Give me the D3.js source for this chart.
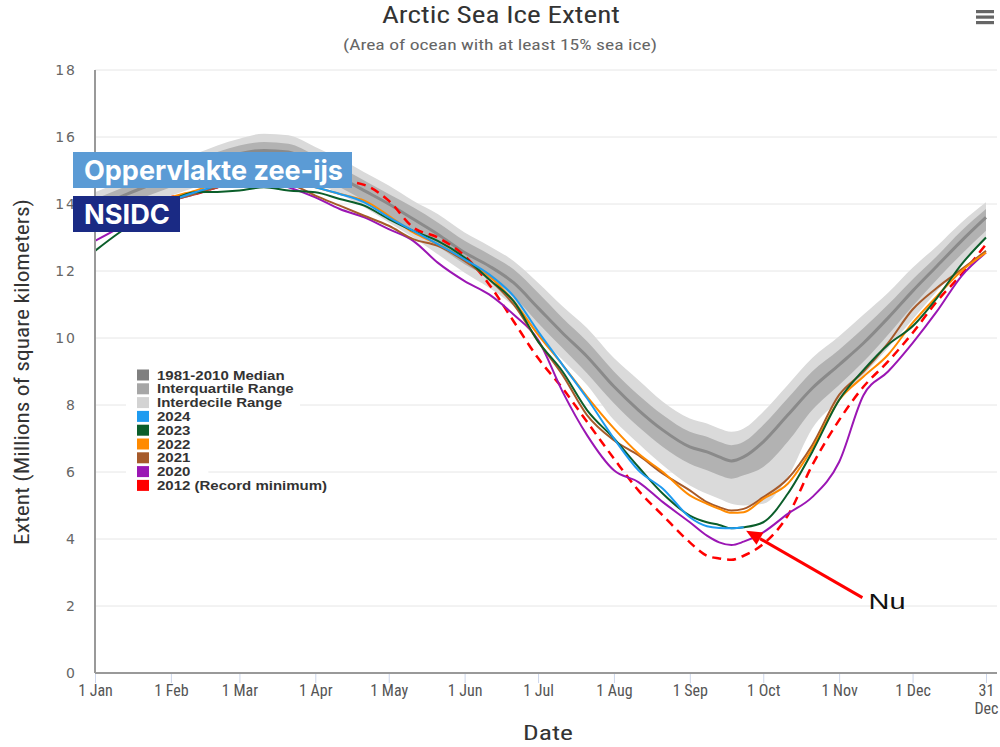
<!DOCTYPE html>
<html><head><meta charset="utf-8">
<script src="https://cdn.jsdelivr.net/npm/d3@7"></script>
<style>body{margin:0;background:#fff}svg{display:block}</style>
</head><body>
<svg id="chart" width="1000" height="747"></svg>
<script>
// ---- data (millions of km², day-of-year sampled) ----
const days = [0,10,20,31,41,50,59,69,79,90,100,110,120,130,140,151,161,171,181,191,201,212,222,232,243,250,255,260,265,273,283,293,304,314,324,334,344,354,364];
const median = [13.9,14.2,14.5,14.8,15.05,15.3,15.5,15.6,15.55,15.2,14.8,14.4,14.0,13.55,13.1,12.55,12.15,11.65,10.9,10.15,9.45,8.55,7.85,7.25,6.75,6.6,6.45,6.33,6.45,6.9,7.7,8.5,9.2,9.85,10.6,11.4,12.15,12.9,13.6];
const iqLow  = [13.6,13.9,14.2,14.5,14.75,15.0,15.2,15.3,15.25,14.9,14.5,14.1,13.65,13.2,12.75,12.2,11.8,11.25,10.45,9.7,8.95,8.05,7.35,6.75,6.25,6.05,5.9,5.8,5.9,6.15,6.9,7.85,8.6,9.3,10.1,10.95,11.75,12.5,13.2];
const iqHigh = [14.15,14.45,14.75,15.05,15.3,15.55,15.75,15.85,15.8,15.45,15.1,14.7,14.3,13.9,13.45,12.9,12.5,12.05,11.35,10.6,9.9,9.0,8.3,7.7,7.2,7.05,6.9,6.8,6.9,7.4,8.2,9.0,9.65,10.3,11.0,11.75,12.45,13.2,13.85];
const idLow  = [13.35,13.65,13.95,14.25,14.5,14.75,14.95,15.05,15.0,14.65,14.3,13.9,13.45,13.0,12.5,11.95,11.5,10.95,10.1,9.35,8.6,7.55,6.85,6.2,5.6,5.35,5.2,5.05,5.0,5.05,5.85,7.3,8.15,8.9,9.7,10.55,11.4,12.2,12.95];
const idHigh = [14.35,14.65,14.95,15.25,15.5,15.75,15.95,16.1,16.05,15.7,15.35,14.95,14.55,14.1,13.7,13.15,12.75,12.3,11.65,10.95,10.3,9.4,8.75,8.1,7.6,7.45,7.3,7.2,7.3,7.8,8.6,9.4,10.05,10.7,11.35,12.1,12.75,13.45,14.05];

const y2024 = [13.25,13.5,13.8,14.1,14.35,14.55,14.75,14.8,14.7,14.5,14.3,14.05,13.6,13.2,12.8,12.35,11.9,11.25,10.2,9.2,8.2,7.0,6.05,5.5,4.65,4.38,4.33,4.32,4.35,null,null,null,null,null,null,null,null,null,null];
const y2023 = [12.6,13.15,13.6,14.1,14.35,14.36,14.4,14.5,14.4,14.35,14.15,13.95,13.55,13.2,12.9,12.4,11.75,11.1,9.9,9.0,7.85,7.0,6.15,5.35,4.7,4.5,4.42,4.32,4.35,4.5,5.35,6.6,8.15,9.05,9.8,10.35,11.2,12.2,13.0];
const y2022 = [13.3,13.6,13.9,14.2,14.4,14.6,14.7,14.8,14.7,14.5,14.3,14.1,13.65,13.15,12.8,12.35,11.85,11.1,10.1,9.2,8.25,7.3,6.55,6.0,5.3,5.05,4.9,4.78,4.8,5.2,5.65,6.7,8.15,8.85,9.5,10.45,11.25,12.0,12.55];
const y2021 = [13.2,13.5,13.8,14.1,14.3,14.5,14.6,14.65,14.6,14.25,13.95,13.65,13.35,12.95,12.75,12.3,11.75,11.0,9.9,8.9,7.7,6.95,6.5,5.95,5.45,5.1,4.95,4.85,4.9,5.25,5.8,6.8,8.3,9.0,9.85,10.85,11.5,12.05,12.6];
const y2020 = [12.9,13.3,13.8,14.1,14.3,14.5,14.6,14.7,14.5,14.2,13.85,13.6,13.25,12.9,12.25,11.7,11.3,10.7,9.95,8.4,7.1,6.05,5.7,5.1,4.5,4.1,3.9,3.82,3.92,4.2,4.75,5.25,6.3,8.3,9.0,9.85,10.8,11.85,12.55];
const y2012 = [13.4,13.6,13.9,14.2,14.3,14.5,14.6,14.8,14.9,14.8,14.7,14.57,14.1,13.3,13.0,12.45,11.6,10.5,9.4,8.5,7.5,6.4,5.45,4.7,3.9,3.5,3.42,3.38,3.5,3.85,4.7,6.2,7.55,8.55,9.3,10.15,11.1,11.9,12.8];

const monthDays = [0,31,59,90,120,151,181,212,243,273,304,334,364];
const monthLabels = ["1 Jan","1 Feb","1 Mar","1 Apr","1 May","1 Jun","1 Jul","1 Aug","1 Sep","1 Oct","1 Nov","1 Dec","31\nDec"];
const yTicks = [0,2,4,6,8,10,12,14,16,18];

const seriesNames = ["2024","2023","2022","2021","2020","2012 (Record minimum)"];
const seriesColors = ["#1e9bf0","#0b5e2a","#ff8a00","#a65a2a","#9b16b4","#ff0000"];
const seriesData = [y2024,y2023,y2022,y2021,y2020,y2012];

const legendNames = ["1981-2010 Median","Interquartile Range","Interdecile Range"].concat(seriesNames);
const legendColors = ["#7f7f7f","#a6a6a6","#d3d3d3"].concat(seriesColors);

// annotation anchor (data coordinates)
const nuDay = 316, nuValue = 2.15;
const arrowTailDay = 313.5, arrowTailValue = 2.25;
const arrowTipDay = 266, arrowTipValue = 4.25;

// ---- drawing ----
const svg = d3.select("#chart");
const x = d3.scaleLinear().domain([0,364]).range([95,986]);
const y = d3.scaleLinear().domain([0,18]).range([673,70]);
const condensed = "'Liberation Sans Narrow','Roboto Condensed','DejaVu Sans Condensed','Open Sans',sans-serif";

// grid
svg.append("g").selectAll("line").data(yTicks.filter(d=>d>0)).join("line")
  .attr("x1",95).attr("x2",997).attr("y1",d=>y(d)).attr("y2",d=>y(d))
  .attr("stroke","#e6e6e6").attr("stroke-width",1);

// bands
const idx = d3.range(days.length);
const area = (lo,hi)=>d3.area().x(i=>x(days[i])).y0(i=>y(lo[i])).y1(i=>y(hi[i])).curve(d3.curveMonotoneX);
svg.append("path").attr("d",area(idLow,idHigh)(idx)).attr("fill","#dadada");
svg.append("path").attr("d",area(iqLow,iqHigh)(idx)).attr("fill","#b2b2b2");
const lineGen = arr=>d3.line().defined(i=>arr[i]!=null).x(i=>x(days[i])).y(i=>y(arr[i])).curve(d3.curveMonotoneX);
svg.append("path").attr("d",lineGen(median)(idx)).attr("fill","none").attr("stroke","#8a8a8a").attr("stroke-width",3);

// year lines (2012 underneath, 2024 on top)
for (let k = seriesData.length-1; k>=0; k--) {
  const p = svg.append("path").attr("d",lineGen(seriesData[k])(idx)).attr("fill","none")
    .attr("stroke",seriesColors[k]).attr("stroke-width",k===5?2.5:2).attr("stroke-linejoin","round");
  if (k===5) p.attr("stroke-dasharray","9,6");
}

// axes
svg.append("line").attr("x1",95).attr("x2",95).attr("y1",70).attr("y2",673).attr("stroke","#999").attr("stroke-width",2);
const xAxis = d3.axisBottom(x).tickValues(monthDays).tickSize(10).tickFormat(()=> "");
const gx = svg.append("g").attr("transform","translate(0,673)").call(xAxis);
gx.select(".domain").remove();
gx.selectAll(".tick line").attr("stroke","#ccd6eb");
svg.append("line").attr("x1",95).attr("x2",997).attr("y1",673).attr("y2",673).attr("stroke","#999").attr("stroke-width",2);
gx.selectAll(".tick").each(function(d,i){
  const t = d3.select(this).append("text").attr("fill","#555").attr("font-family",condensed)
    .attr("font-size",16).attr("text-anchor","middle").attr("y",23);
  monthLabels[i].split("\n").forEach((s,j)=>t.append("tspan").attr("x",0).attr("dy",j?18:0).text(s));
});

const yAxis = d3.axisLeft(y).tickValues(yTicks).tickSize(0).tickFormat(d3.format("d"));
const gy = svg.append("g").attr("transform","translate(77,0)").call(yAxis);
gy.select(".domain").remove();
gy.selectAll("text").attr("fill","#666").attr("font-family","'DejaVu Sans',sans-serif").attr("font-size",14)
  .attr("letter-spacing","2px").attr("x",0).attr("dy","0.35em");

// titles
svg.append("text").attr("x",501).attr("y",23).attr("text-anchor","middle").attr("font-family",condensed)
  .attr("font-size",23).attr("fill","#333").attr("textLength",238).attr("lengthAdjust","spacingAndGlyphs").text("Arctic Sea Ice Extent");
svg.append("text").attr("x",500).attr("y",50).attr("text-anchor","middle").attr("font-family",condensed)
  .attr("font-size",15).attr("fill","#666").attr("textLength",314).attr("lengthAdjust","spacingAndGlyphs").text("(Area of ocean with at least 15% sea ice)");
svg.append("text").attr("x",548).attr("y",740).attr("text-anchor","middle").attr("font-family",condensed)
  .attr("font-size",20).attr("fill","#333").attr("textLength",50).attr("lengthAdjust","spacingAndGlyphs").text("Date");
svg.append("text").attr("transform","translate(29,372) rotate(-90)").attr("text-anchor","middle").attr("font-family",condensed)
  .attr("font-size",21).attr("fill","#333").attr("textLength",346).attr("lengthAdjust","spacingAndGlyphs").text("Extent (Millions of square kilometers)");

// hamburger
svg.append("g").selectAll("rect").data([0,1,2]).join("rect")
  .attr("x",976).attr("y",d=>10+d*5.5).attr("width",18).attr("height",3.2).attr("fill","#666");

// legend
const lg = svg.append("g");
legendNames.forEach((name,i)=>{
  const cy = 375 + i*13.8;
  const bg = lg.append("rect").attr("x",126).attr("y",cy-7).attr("height",14).attr("fill","#fff");
  lg.append("rect").attr("x",137).attr("y",cy-5.5).attr("width",12).attr("height",11).attr("fill",legendColors[i]);
  const t = lg.append("text").attr("x",157).attr("y",cy+4.5).attr("font-family","'Liberation Sans',Arial,sans-serif")
    .attr("font-weight","bold").attr("font-size",12.5).attr("fill","#333").text(name);
  const w = t.node().getComputedTextLength()*1.2;
  t.attr("textLength",w).attr("lengthAdjust","spacingAndGlyphs");
  bg.attr("width", 157 - 126 + w + 18);
});

// overlay labels
svg.append("rect").attr("x",73).attr("y",152).attr("width",279).attr("height",36).attr("fill","#5b9bd5");
svg.append("text").attr("x",84).attr("y",180).attr("font-family","Inter,'Open Sans',sans-serif").attr("font-weight","bold")
  .attr("font-size",27).attr("fill","#fff").attr("textLength",259).attr("lengthAdjust","spacingAndGlyphs").text("Oppervlakte zee-ijs");
svg.append("rect").attr("x",73).attr("y",196).attr("width",107).attr("height",36).attr("fill","#1a2a84");
svg.append("text").attr("x",84).attr("y",224).attr("font-family","Inter,'Open Sans',sans-serif").attr("font-weight","bold")
  .attr("font-size",27).attr("fill","#fff").attr("textLength",86).attr("lengthAdjust","spacingAndGlyphs").text("NSIDC");

// Nu annotation
const tx = x(arrowTailDay), ty = y(arrowTailValue), hx = x(arrowTipDay), hy = y(arrowTipValue);
const ang = Math.atan2(hy-ty, hx-tx);
const L = 16, W = 7;
const bx = hx - L*Math.cos(ang), by = hy - L*Math.sin(ang);
svg.append("line").attr("x1",tx).attr("y1",ty).attr("x2",bx).attr("y2",by).attr("stroke","#ff0000").attr("stroke-width",3);
svg.append("path").attr("d",`M${hx},${hy}L${bx + W*Math.sin(ang)},${by - W*Math.cos(ang)}L${bx - W*Math.sin(ang)},${by + W*Math.cos(ang)}Z`).attr("fill","#ff0000");
svg.append("text").attr("x",x(nuDay)).attr("y",y(nuValue)+8).attr("font-family","'Liberation Sans',Arial,sans-serif")
  .attr("font-size",22).attr("fill","#111").attr("textLength",37).attr("lengthAdjust","spacingAndGlyphs").text("Nu");
</script>
</body></html>
